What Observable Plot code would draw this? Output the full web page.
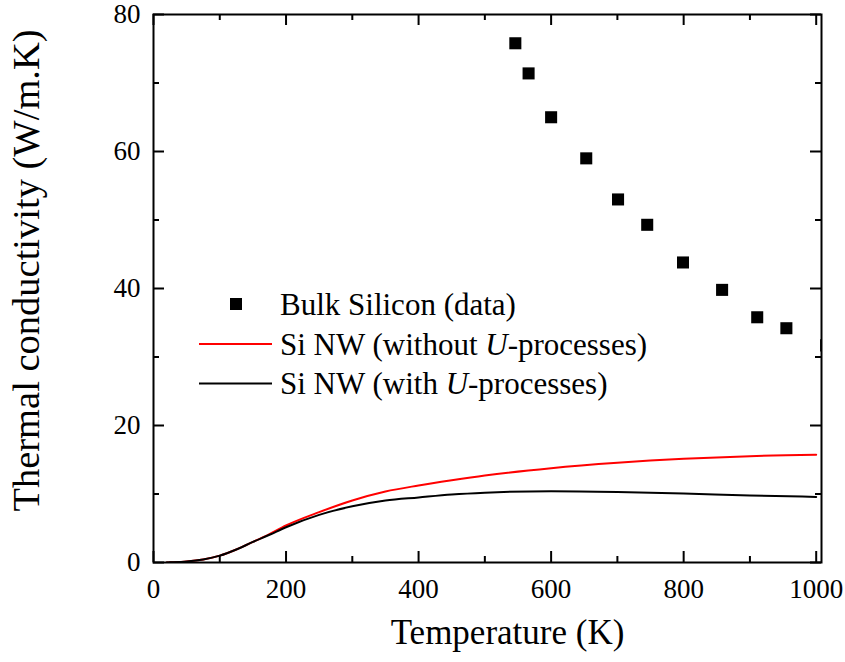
<!DOCTYPE html>
<html>
<head>
<meta charset="utf-8">
<script src="https://cdn.jsdelivr.net/npm/d3@7"></script>
<script src="https://cdn.jsdelivr.net/npm/@observablehq/plot@0.6"></script>
<style>
  html, body { margin: 0; padding: 0; background: #fff; }
  #chart { width: 845px; height: 662px; }
</style>
</head>
<body>
<div id="chart"></div>
<script>
// ---- data ----
const bulkT = [546, 566, 600, 653, 701, 745, 799, 858, 911, 955, 1015];
const bulkK = [75.8, 71.4, 65.0, 59.0, 53.0, 49.3, 43.8, 39.8, 35.8, 34.2, 31.7];

const nwT        = [20, 25, 50, 75, 100, 125, 150, 175, 200, 250, 300, 350, 400, 450, 500, 600, 700, 800, 900, 1000];
const nwWithoutU = [0, 0.02, 0.15, 0.45, 1.0, 1.9, 3.0, 4.15, 5.4, 7.35, 9.05, 10.36, 11.24, 12.0, 12.7, 13.77, 14.55, 15.13, 15.52, 15.72];
const nwWithU    = [0, 0.02, 0.15, 0.45, 1.0, 1.9, 3.0, 4.05, 5.15, 6.95, 8.2, 9.05, 9.5, 9.93, 10.2, 10.41, 10.3, 10.07, 9.78, 9.58];

const xMajor = [0, 200, 400, 600, 800, 1000];
const xMinor = [100, 300, 500, 700, 900];
const yMajor = [0, 20, 40, 60, 80];
const yMinor = [10, 30, 50, 70];

const xTitle = "Temperature (K)";
const yTitle = "Thermal conductivity (W/m.K)";

const legendItems = [
  {kind: "square", color: "#000", parts: [["Bulk Silicon (data)", false]]},
  {kind: "line", color: "#ff0000", parts: [["Si NW (without ", false], ["U", true], ["-processes)", false]]},
  {kind: "line", color: "#000", parts: [["Si NW (with ", false], ["U", true], ["-processes)", false]]}
];

// ---- tables built from arrays ----
const bulk = bulkT.map((t, i) => ({T: t, k: bulkK[i]}));
const noU = nwT.map((t, i) => ({T: t, k: nwWithoutU[i]}));
const withU = nwT.map((t, i) => ({T: t, k: nwWithU[i]}));

// ---- layout ----
const W = 845, H = 662;
const mL = 153, mR = 24, mT = 14, mB = 100;
const plotW = W - mL - mR, plotH = H - mT - mB;
const major = 11, minor = 6;
const font = "'Liberation Serif', 'Times New Roman', serif";

const svg = Plot.plot({
  width: W, height: H,
  marginLeft: mL, marginRight: mR, marginTop: mT, marginBottom: mB,
  style: {fontFamily: font, fontSize: "27px", color: "#000", background: "#fff", overflow: "visible"},
  x: {domain: [0, 1008]},
  y: {domain: [0, 80]},
  marks: [
    // curves
    Plot.line(noU, {x: "T", y: "k", stroke: "#ff0000", strokeWidth: 2, curve: "monotone-x", clip: true}),
    Plot.line(withU, {x: "T", y: "k", stroke: "#000", strokeWidth: 2, curve: "monotone-x", clip: true}),
    // bulk data
    Plot.dot(bulk, {x: "T", y: "k", symbol: "square", r: 6.8, fill: "#000", stroke: null, clip: true}),
    // inward ticks: bottom/top
    Plot.tickX(xMajor, {x: d => d, insetTop: plotH - major, strokeWidth: 2}),
    Plot.tickX(xMinor, {x: d => d, insetTop: plotH - minor, strokeWidth: 2}),
    Plot.tickX(xMajor, {x: d => d, insetBottom: plotH - major, strokeWidth: 2}),
    Plot.tickX(xMinor, {x: d => d, insetBottom: plotH - minor, strokeWidth: 2}),
    // inward ticks: left/right
    Plot.tickY(yMajor, {y: d => d, insetRight: plotW - major, strokeWidth: 2}),
    Plot.tickY(yMinor, {y: d => d, insetRight: plotW - minor, strokeWidth: 2}),
    Plot.tickY(yMajor, {y: d => d, insetLeft: plotW - major, strokeWidth: 2}),
    Plot.tickY(yMinor, {y: d => d, insetLeft: plotW - minor, strokeWidth: 2}),
    // frame
    Plot.frame({stroke: "#000", strokeWidth: 2}),
    // tick labels
    Plot.axisX({ticks: xMajor, tickSize: 0, tickPadding: 16, tickFormat: d => String(d), label: null, fontSize: 27}),
    Plot.axisY({ticks: yMajor, tickSize: 0, tickPadding: 13, tickFormat: d => String(d), label: null, fontSize: 27}),
    // axis titles
    Plot.text([xTitle], {text: d => d, frameAnchor: "bottom", dx: 20, dy: 70, lineAnchor: "middle", textAnchor: "middle", fontSize: 35, fill: "#000"}),
    Plot.text([yTitle], {text: d => d, frameAnchor: "left", rotate: -90, dx: -127, dy: -18, lineAnchor: "middle", textAnchor: "middle", fontSize: 38.5, fill: "#000"})
  ]
});

document.getElementById("chart").appendChild(svg);

// ---- legend inside the plot area ----
const lg = d3.select(svg).append("g")
  .attr("font-family", font)
  .attr("font-size", 31)
  .attr("text-anchor", "start")
  .attr("fill", "#000");
const lgX = 280, lgY0 = 315, lgStep = 39.5;
legendItems.forEach((item, i) => {
  const by = lgY0 + i * lgStep;
  if (item.kind === "square") {
    lg.append("rect").attr("x", 236 - 6).attr("y", by - 11 - 6).attr("width", 12).attr("height", 12).attr("fill", item.color);
  } else {
    lg.append("line").attr("x1", 199).attr("x2", 272).attr("y1", by - 10.5).attr("y2", by - 10.5)
      .attr("stroke", item.color).attr("stroke-width", 2);
  }
  const t = lg.append("text").attr("x", lgX).attr("y", by).attr("text-anchor", "start");
  item.parts.forEach(([s, it]) => {
    t.append("tspan").text(s).attr("font-style", it ? "italic" : null);
  });
});
</script>
</body>
</html>
